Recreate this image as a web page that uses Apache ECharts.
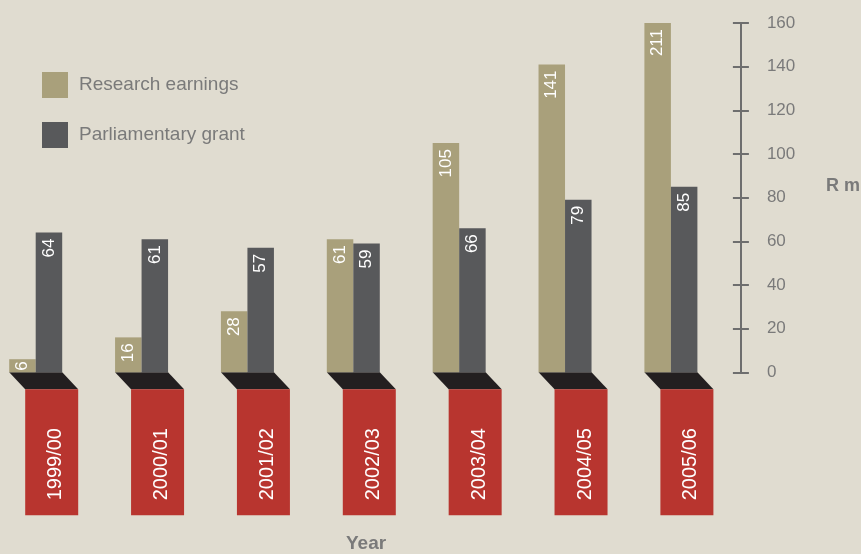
<!DOCTYPE html>
<html>
<head>
<meta charset="utf-8">
<script src="https://cdn.jsdelivr.net/npm/echarts@6/dist/echarts.min.js"></script>
<style>
  html, body { margin: 0; padding: 0; background: #e0dcd0; }
  #chart { width: 861px; height: 554px; }
</style>
</head>
<body>
<div id="chart"></div>
<script>
// Financial years shown along the bottom
const years = ['1999/00', '2000/01', '2001/02', '2002/03', '2003/04', '2004/05', '2005/06'];
// Values in R million
const researchEarnings = [6, 16, 28, 61, 105, 141, 211];
const parliamentaryGrant = [64, 61, 57, 59, 66, 79, 85];
// Value axis ticks
const yMin = 0;
const yMax = 160;
const yStep = 20;

const FONT = '"Liberation Sans", Arial, sans-serif';
const TAN = '#a9a07b';
const SLATE = '#58595b';
const RED = '#b8352f';
const BASE = '#231f20';
const GREY_TEXT = '#7a7a7a';

const chart = echarts.init(document.getElementById('chart'), null, { renderer: 'canvas' });

const barLabel = {
  show: true,
  position: 'insideTop',
  distance: 6,
  rotate: 90,
  align: 'right',
  verticalAlign: 'middle',
  color: '#ffffff',
  fontSize: 17,
  fontFamily: FONT
};

// Short bars get their value tucked closer to the top edge
function withLabels(values) {
  return values.map(function (v) {
    return v < 10 ? { value: v, label: { distance: 2 } } : v;
  });
}

const valueAxisCommon = {
  type: 'value',
  min: yMin,
  max: yMax,
  interval: yStep,
  position: 'right',
  offset: 70,
  splitLine: { show: false }
};

chart.setOption({
  backgroundColor: '#e0dcd0',
  animation: false,
  textStyle: { fontFamily: FONT },
  grid: { left: 35.7, right: 190.1, top: 23, bottom: 181.7, containLabel: false },
  legend: {
    orient: 'vertical',
    left: 37,
    top: 67,
    itemWidth: 26,
    itemHeight: 26,
    itemGap: 24,
    icon: 'rect',
    selectedMode: false,
    textStyle: { fontSize: 19, color: GREY_TEXT, fontFamily: FONT, padding: [0, 0, 4, 6] },
    data: ['Research earnings', 'Parliamentary grant']
  },
  xAxis: {
    type: 'category',
    data: years,
    boundaryGap: false,
    show: false
  },
  yAxis: [
    Object.assign({}, valueAxisCommon, {
      axisLine: { show: true, lineStyle: { color: '#6e6e6e', width: 2 } },
      axisTick: { show: true, inside: false, length: 8, lineStyle: { color: '#6e6e6e', width: 2 } },
      axisLabel: { show: true, margin: 26, color: GREY_TEXT, fontSize: 17, fontFamily: FONT, align: 'left' }
    }),
    Object.assign({}, valueAxisCommon, {
      axisLine: { show: false },
      axisTick: { show: true, inside: true, length: 8, lineStyle: { color: '#6e6e6e', width: 2 } },
      axisLabel: { show: false }
    })
  ],
  series: [
    {
      name: 'Research earnings',
      type: 'bar',
      yAxisIndex: 0,
      barWidth: 26.5,
      barGap: '0%',
      z: 3,
      itemStyle: { color: TAN },
      label: barLabel,
      data: withLabels(researchEarnings)
    },
    {
      name: 'Parliamentary grant',
      type: 'bar',
      yAxisIndex: 0,
      barWidth: 26.5,
      barGap: '0%',
      z: 3,
      itemStyle: { color: SLATE },
      label: barLabel,
      data: withLabels(parliamentaryGrant)
    },
    {
      // Slanted plinth under each pair of bars and the red year tag below it
      type: 'custom',
      yAxisIndex: 0,
      silent: true,
      z: 1,
      data: years.map(function (_, i) { return [i]; }),
      encode: { x: 0 },
      renderItem: function (params, api) {
        const idx = api.value(0);
        const p = api.coord([idx, 0]);
        const c = p[0];
        const y0 = p[1];
        return {
          type: 'group',
          children: [
            {
              type: 'polygon',
              shape: { points: [[c - 26.5, y0], [c + 26.5, y0], [c + 42.5, y0 + 17], [c - 10.5, y0 + 17]] },
              style: { fill: BASE }
            },
            {
              type: 'rect',
              shape: { x: c - 10.5, y: y0 + 17, width: 53, height: 126 },
              style: { fill: RED }
            },
            {
              type: 'text',
              x: c + 20,
              y: y0 + 128,
              rotation: Math.PI / 2,
              style: {
                text: years[idx],
                fill: '#ffffff',
                fontSize: 20,
                fontFamily: FONT,
                align: 'left',
                verticalAlign: 'middle'
              }
            }
          ]
        };
      }
    }
  ],
  graphic: [
    {
      type: 'text',
      left: 826,
      top: 177,
      style: { text: 'R m', fill: GREY_TEXT, fontSize: 18, fontWeight: 'bold', fontFamily: FONT }
    },
    {
      type: 'text',
      left: 346,
      top: 534,
      style: { text: 'Year', fill: GREY_TEXT, fontSize: 19, fontWeight: 'bold', fontFamily: FONT }
    }
  ]
});
</script>
</body>
</html>
